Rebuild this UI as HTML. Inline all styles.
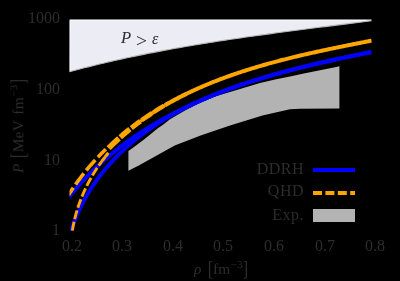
<!DOCTYPE html>
<html><head><meta charset="utf-8"><style>
html,body{margin:0;padding:0;background:#000;}
body{width:400px;height:281px;position:relative;overflow:hidden;font-family:"Liberation Serif",serif;color:#2d2d2d;}
.t{position:absolute;white-space:nowrap;line-height:1;will-change:transform;}
.yt{font-size:16px;text-align:right;width:40px;left:19.6px;}
.xt{font-size:16px;text-align:center;width:40px;}
.lg{font-size:16px;text-align:right;width:80px;left:224.1px;letter-spacing:0.5px;}
sup{font-size:0.74em;vertical-align:baseline;position:relative;top:-0.52em;line-height:0;}
.br{font-size:1.32em;line-height:0;position:relative;top:0.06em;font-weight:normal;display:inline-block;transform:scaleX(0.8);margin:0 -0.04em;}
</style></head><body>
<svg width="400" height="281" viewBox="0 0 400 281" style="position:absolute;left:0;top:0">
<defs><clipPath id="c"><rect x="69.5" y="19.5" width="302.3" height="211.3"/></clipPath></defs>
<path d="M69.55,19.60 L371.50,19.60 L371.47,20.72 L367.63,21.21 L363.78,21.70 L359.94,22.19 L356.09,22.68 L352.25,23.17 L348.40,23.66 L344.55,24.14 L340.70,24.63 L336.86,25.12 L333.01,25.60 L329.16,26.09 L325.31,26.58 L321.46,27.07 L317.61,27.55 L313.76,28.04 L309.91,28.54 L306.06,29.03 L302.21,29.53 L298.36,30.02 L294.51,30.52 L290.66,31.03 L286.81,31.53 L282.96,32.04 L279.11,32.55 L275.27,33.06 L271.42,33.58 L267.57,34.10 L263.72,34.63 L259.88,35.16 L256.03,35.69 L252.19,36.23 L248.34,36.78 L244.50,37.33 L240.66,37.88 L236.81,38.44 L232.97,39.01 L229.13,39.58 L225.30,40.16 L221.46,40.74 L217.62,41.33 L213.79,41.93 L209.95,42.53 L206.12,43.14 L202.29,43.76 L198.46,44.39 L194.63,45.03 L190.80,45.67 L186.98,46.32 L183.16,46.98 L179.33,47.65 L175.51,48.32 L171.69,49.01 L167.88,49.71 L164.06,50.41 L160.25,51.13 L156.44,51.85 L152.63,52.59 L148.83,53.33 L145.02,54.09 L141.22,54.86 L137.42,55.64 L133.62,56.43 L129.83,57.23 L126.03,58.04 L122.24,58.86 L118.45,59.70 L114.67,60.55 L110.89,61.41 L107.11,62.29 L103.33,63.18 L99.55,64.08 L95.78,64.99 L92.01,65.92 L88.25,66.86 L84.48,67.82 L80.72,68.79 L76.97,69.77 L73.21,70.77 L69.46,71.79Z" fill="#ececf4"/>
<path d="M69.46,71.79 L73.21,70.77 L76.97,69.77 L80.72,68.79 L84.48,67.82 L88.25,66.86 L92.01,65.92 L95.78,64.99 L99.55,64.08 L103.33,63.18 L107.11,62.29 L110.89,61.41 L114.67,60.55 L118.45,59.70 L122.24,58.86 L126.03,58.04 L129.83,57.23 L133.62,56.43 L137.42,55.64 L141.22,54.86 L145.02,54.09 L148.83,53.33 L152.63,52.59 L156.44,51.85 L160.25,51.13 L164.06,50.41 L167.88,49.71 L171.69,49.01 L175.51,48.32 L179.33,47.65 L183.16,46.98 L186.98,46.32 L190.80,45.67 L194.63,45.03 L198.46,44.39 L202.29,43.76 L206.12,43.14 L209.95,42.53 L213.79,41.93 L217.62,41.33 L221.46,40.74 L225.30,40.16 L229.13,39.58 L232.97,39.01 L236.81,38.44 L240.66,37.88 L244.50,37.33 L248.34,36.78 L252.19,36.23 L256.03,35.69 L259.88,35.16 L263.72,34.63 L267.57,34.10 L271.42,33.58 L275.27,33.06 L279.11,32.55 L282.96,32.04 L286.81,31.53 L290.66,31.03 L294.51,30.52 L298.36,30.02 L302.21,29.53 L306.06,29.03 L309.91,28.54 L313.76,28.04 L317.61,27.55 L321.46,27.07 L325.31,26.58 L329.16,26.09 L333.01,25.60 L336.86,25.12 L340.70,24.63 L344.55,24.14 L348.40,23.66 L352.25,23.17 L356.09,22.68 L359.94,22.19 L363.78,21.70 L367.63,21.21 L371.47,20.72" fill="none" stroke="#b8b8b8" stroke-width="1.1"/>
<path d="M70.3,70.5 L70.3,20.4 L366,20.4" fill="none" stroke="#f6f6fb" stroke-width="1"/>
<path d="M128.40,151.10 L136.00,145.50 L144.00,139.50 L149.00,135.50 L157.50,128.60 L163.00,124.80 L170.00,119.30 L185.00,110.60 L200.00,102.80 L215.00,96.40 L230.00,91.90 L245.00,87.60 L260.00,82.90 L275.00,79.40 L290.00,76.40 L305.00,73.20 L320.00,70.30 L335.00,67.20 L339.40,66.20 L339.40,108.60 L300.00,108.70 L290.00,109.30 L280.00,111.50 L262.50,115.50 L230.00,125.50 L200.60,135.50 L174.70,145.50 L156.75,155.50 L138.75,165.50 L128.40,170.70Z" fill="#b3b3b3"/>
<g clip-path="url(#c)" fill="none">
<path d="M68.86,196.94 L69.60,196.02 L70.35,195.11 L71.10,194.20 L71.85,193.29 L72.61,192.39 L73.37,191.49 L74.13,190.59 L74.89,189.70 L75.66,188.81 L76.43,187.93 L77.21,187.05 L77.98,186.17 L78.76,185.30 L79.54,184.43 L80.33,183.56 L81.12,182.70 L81.91,181.85 L82.70,180.99 L83.50,180.14 L84.30,179.30 L85.10,178.46 L85.90,177.62 L86.71,176.78 L87.52,175.95 L88.34,175.13 L89.15,174.30 L89.97,173.49 L90.79,172.67 L91.61,171.86 L92.44,171.05 L93.27,170.25 L94.10,169.45 L94.94,168.65 L95.77,167.86 L96.61,167.07 L97.45,166.28 L98.30,165.50 L99.15,164.72 L100.00,163.94 L100.85,163.17 L101.70,162.40 L102.56,161.64 L103.42,160.88 L104.28,160.12 L105.15,159.37 L106.02,158.62 L106.89,157.87 L107.76,157.13 L108.63,156.39 L109.51,155.65 L110.39,154.92 L111.27,154.19 L112.16,153.46 L113.04,152.74 L113.93,152.02 L114.82,151.30 L115.72,150.59 L116.61,149.88 L117.51,149.18 L118.41,148.47 L119.31,147.78 L120.22,147.08 L121.13,146.39 L122.04,145.70 L122.95,145.01 L123.86,144.33 L124.78,143.65 L125.70,142.98 L126.62,142.30 L127.54,141.64 L128.47,140.97 L129.40,140.31 L130.32,139.65 L131.26,138.99 L132.19,138.34 L133.13,137.69 L134.06,137.04 L135.00,136.40 L135.95,135.76 L136.89,135.12 L137.84,134.49 L138.78,133.86 L139.73,133.23 L140.69,132.60 L141.64,131.98 L142.60,131.36 L143.56,130.75 L144.52,130.14 L145.48,129.53 L146.44,128.92 L147.41,128.32 L148.38,127.72 L149.35,127.12 L150.32,126.53 L151.29,125.93 L152.27,125.35 L153.24,124.76 L154.22,124.18 L155.20,123.60 L156.19,123.02 L157.17,122.45 L158.16,121.88 L159.15,121.31 L160.14,120.75 L161.13,120.18 L162.12,119.63 L163.12,119.07 L164.11,118.52 L165.11,117.97 L166.11,117.42 L167.11,116.87 L168.12,116.33 L169.12,115.79 L170.13,115.25 L171.14,114.72 L172.15,114.19 L173.16,113.66 L174.17,113.14 L175.19,112.61 L176.21,112.09 L177.22,111.58 L178.24,111.06 L179.27,110.55 L180.29,110.04 L181.31,109.53 L182.34,109.03 L183.37,108.53 L184.39,108.03 L185.42,107.53 L186.46,107.04 L187.49,106.55 L188.52,106.06 L189.56,105.57 L190.60,105.09 L191.64,104.61 L192.68,104.13 L193.72,103.66 L194.76,103.18 L195.80,102.71 L196.85,102.25 L197.90,101.78 L198.95,101.32 L199.99,100.86 L201.05,100.40 L202.10,99.94 L203.15,99.49 L204.21,99.04 L205.26,98.59 L206.32,98.14 L207.38,97.70 L208.44,97.26 L209.50,96.82 L210.56,96.38 L211.62,95.95 L212.68,95.52 L213.75,95.09 L214.82,94.66 L215.88,94.23 L216.95,93.81 L218.02,93.39 L219.09,92.97 L220.16,92.56 L221.24,92.14 L222.31,91.73 L223.39,91.32 L224.46,90.92 L225.54,90.51 L226.62,90.11 L227.70,89.71 L228.78,89.31 L229.86,88.91 L230.94,88.52 L232.02,88.13 L233.10,87.74 L234.19,87.35 L235.27,86.96 L236.36,86.58 L237.45,86.20 L238.54,85.82 L239.62,85.44 L240.71,85.07 L241.81,84.69 L242.90,84.32 L243.99,83.95 L245.08,83.59 L246.18,83.22 L247.27,82.86 L248.37,82.50 L249.46,82.14 L250.56,81.78 L251.66,81.43 L252.75,81.07 L253.85,80.72 L254.95,80.37 L256.05,80.02 L257.15,79.68 L258.25,79.33 L259.36,78.99 L260.46,78.65 L261.56,78.31 L262.67,77.98 L263.77,77.64 L264.88,77.31 L265.98,76.98 L267.09,76.65 L268.19,76.32 L269.30,76.00 L270.41,75.67 L271.52,75.35 L272.63,75.03 L273.73,74.71 L274.84,74.39 L275.95,74.08 L277.07,73.76 L278.18,73.45 L279.29,73.14 L280.40,72.83 L281.51,72.53 L282.62,72.22 L283.74,71.92 L284.85,71.61 L285.96,71.31 L287.08,71.02 L288.19,70.72 L289.31,70.42 L290.42,70.13 L291.54,69.83 L292.65,69.54 L293.77,69.25 L294.88,68.97 L296.00,68.68 L297.11,68.39 L298.23,68.11 L299.35,67.83 L300.46,67.55 L301.58,67.27 L302.70,66.99 L303.82,66.71 L304.93,66.44 L306.05,66.16 L307.17,65.89 L308.29,65.62 L309.40,65.35 L310.52,65.08 L311.64,64.82 L312.76,64.55 L313.88,64.29 L315.00,64.02 L316.11,63.76 L317.23,63.50 L318.35,63.24 L319.47,62.99 L320.59,62.73 L321.70,62.47 L322.82,62.22 L323.94,61.97 L325.06,61.72 L326.17,61.47 L327.29,61.22 L328.41,60.97 L329.53,60.72 L330.64,60.48 L331.76,60.23 L332.88,59.99 L333.99,59.75 L335.11,59.51 L336.23,59.27 L337.34,59.03 L338.46,58.79 L339.58,58.55 L340.69,58.32 L341.81,58.08 L342.92,57.85 L344.03,57.62 L345.15,57.38 L346.26,57.15 L347.38,56.92 L348.49,56.70 L349.60,56.47 L350.71,56.24 L351.83,56.02 L352.94,55.79 L354.05,55.57 L355.16,55.35 L356.27,55.12 L357.38,54.90 L358.49,54.68 L359.60,54.46 L360.71,54.25 L361.82,54.03 L362.92,53.81 L364.03,53.60 L365.14,53.38 L366.24,53.17 L367.35,52.95 L368.46,52.74 L369.56,52.53 L370.66,52.32 L371.77,52.11" stroke="#0000ff" stroke-width="4"/>
<path d="M70.53,232.50 L70.92,231.26 L71.32,230.01 L71.73,228.78 L72.15,227.55 L72.57,226.32 L73.00,225.11 L73.44,223.89 L73.89,222.68 L74.35,221.48 L74.81,220.29 L75.28,219.10 L75.76,217.91 L76.25,216.73 L76.74,215.56 L77.25,214.39 L77.76,213.22 L78.27,212.07 L78.80,210.91 L79.33,209.77 L79.87,208.63 L80.41,207.49 L80.96,206.36 L81.52,205.24 L82.09,204.12 L82.67,203.00 L83.25,201.89 L83.84,200.79 L84.43,199.69 L85.03,198.60 L85.64,197.51 L86.26,196.43 L86.88,195.36 L87.51,194.28 L88.14,193.22 L88.78,192.16 L89.43,191.10 L90.09,190.05 L90.75,189.01 L91.42,187.97 L92.09,186.94 L92.77,185.91 L93.46,184.89 L94.15,183.87 L94.85,182.86 L95.56,181.85 L96.27,180.85 L96.99,179.85 L97.71,178.86 L98.44,177.87 L99.17,176.89 L99.91,175.91 L100.66,174.94 L101.41,173.98 L102.17,173.01 L102.94,172.06 L103.71,171.11 L104.48,170.16 L105.26,169.22 L106.05,168.29 L106.84,167.36 L107.64,166.43 L108.44,165.51 L109.25,164.60 L110.06,163.69 L110.88,162.78 L111.71,161.88 L112.54,160.99 L113.37,160.10 L114.21,159.21 L115.05,158.33 L115.90,157.46 L116.76,156.59 L117.62,155.72 L118.48,154.86 L119.35,154.01 L120.22,153.16 L121.10,152.31 L121.98,151.47 L122.87,150.64 L123.76,149.81 L124.66,148.98 L125.56,148.16 L126.46,147.34 L127.37,146.53 L128.29,145.73 L129.20,144.93 L130.13,144.13 L131.05,143.34 L131.98,142.55 L132.92,141.77 L133.86,140.99 L134.80,140.22 L135.75,139.45 L136.70,138.69 L137.65,137.93 L138.61,137.18 L139.58,136.43 L140.54,135.68 L141.51,134.94 L142.49,134.21 L143.46,133.48 L144.44,132.75 L145.43,132.03 L146.42,131.32 L147.41,130.61 L148.40,129.90 L149.40,129.20 L150.40,128.50 L151.41,127.81 L152.42,127.12 L153.43,126.43 L154.44,125.75 L155.46,125.08 L156.48,124.41 L157.51,123.74 L158.53,123.08 L159.57,122.42 L160.60,121.77 L161.64,121.12 L162.68,120.47 L163.72,119.83 L164.77,119.20 L165.82,118.56 L166.87,117.94 L167.92,117.31 L168.98,116.69 L170.04,116.08 L171.11,115.46 L172.17,114.86 L173.24,114.25 L174.32,113.65 L175.39,113.06 L176.47,112.47 L177.55,111.88 L178.63,111.30 L179.72,110.72 L180.81,110.14 L181.90,109.57 L182.99,109.00 L184.08,108.44 L185.18,107.88 L186.28,107.32 L187.39,106.77 L188.49,106.22 L189.60,105.67 L190.71,105.13 L191.82,104.59 L192.94,104.06 L194.05,103.53 L195.17,103.00 L196.30,102.48 L197.42,101.96 L198.54,101.44 L199.67,100.93 L200.80,100.42 L201.93,99.91 L203.07,99.41 L204.20,98.91 L205.34,98.41 L206.48,97.92 L207.62,97.43 L208.77,96.95 L209.91,96.46 L211.06,95.98 L212.21,95.51 L213.36,95.04 L214.51,94.57 L215.67,94.10 L216.83,93.64 L217.98,93.18 L219.14,92.72 L220.30,92.27 L221.47,91.82 L222.63,91.37 L223.80,90.92 L224.96,90.48 L226.13,90.04 L227.30,89.61 L228.47,89.17 L229.65,88.74 L230.82,88.32 L232.00,87.89 L233.17,87.47 L234.35,87.05 L235.53,86.64 L236.71,86.23 L237.89,85.82 L239.08,85.41 L240.26,85.00 L241.45,84.60 L242.63,84.20 L243.82,83.81 L245.01,83.41 L246.20,83.02 L247.39,82.63 L248.58,82.25 L249.77,81.86 L250.96,81.48 L252.16,81.10 L253.35,80.73 L254.55,80.36 L255.74,79.98 L256.94,79.62 L258.14,79.25 L259.34,78.88 L260.54,78.52 L261.74,78.16 L262.94,77.81 L264.14,77.45 L265.34,77.10 L266.54,76.75 L267.74,76.40 L268.95,76.06 L270.15,75.71 L271.35,75.37 L272.56,75.03 L273.76,74.69 L274.97,74.36 L276.17,74.02 L277.38,73.69 L278.58,73.36 L279.79,73.04 L280.99,72.71 L282.20,72.39 L283.41,72.07 L284.61,71.75 L285.82,71.43 L287.02,71.11 L288.23,70.80 L289.44,70.49 L290.64,70.17 L291.85,69.87 L293.06,69.56 L294.26,69.25 L295.47,68.95 L296.67,68.65 L297.88,68.35 L299.08,68.05 L300.29,67.75 L301.49,67.46 L302.70,67.16 L303.90,66.87 L305.10,66.58 L306.31,66.29 L307.51,66.00 L308.71,65.71 L309.91,65.43 L311.12,65.14 L312.32,64.86 L313.52,64.58 L314.72,64.30 L315.91,64.02 L317.11,63.74 L318.31,63.47 L319.51,63.19 L320.70,62.92 L321.90,62.65 L323.09,62.38 L324.29,62.11 L325.48,61.84 L326.67,61.57 L327.86,61.30 L329.05,61.04 L330.24,60.77 L331.43,60.51 L332.61,60.25 L333.80,59.98 L334.98,59.72 L336.17,59.46 L337.35,59.20 L338.53,58.95 L339.71,58.69 L340.89,58.43 L342.07,58.18 L343.25,57.92 L344.42,57.67 L345.59,57.42 L346.77,57.16 L347.94,56.91 L349.11,56.66 L350.28,56.41 L351.44,56.16 L352.61,55.91 L353.77,55.66 L354.93,55.41 L356.09,55.16 L357.25,54.92 L358.41,54.67 L359.56,54.42 L360.72,54.18 L361.87,53.93 L363.02,53.69 L364.17,53.44 L365.32,53.20 L366.46,52.96 L367.60,52.71 L368.74,52.47 L369.88,52.22 L371.02,51.98" stroke="#0000ff" stroke-width="3.9"/>
<path d="M68.48,195.09 L69.01,194.26 L69.54,193.42 L70.08,192.59 L70.62,191.76 L71.16,190.93 L71.70,190.11 L72.25,189.29 L72.80,188.46 L73.36,187.65 L73.92,186.83 L74.48,186.02 L75.05,185.20 L75.61,184.40 L76.19,183.59 L76.76,182.78 L77.34,181.98 L77.92,181.18 L78.51,180.38 L79.10,179.59 L79.69,178.80 L80.28,178.01 L80.88,177.22 L81.48,176.43 L82.09,175.65 L82.69,174.87 L83.30,174.09 L83.92,173.32 L84.53,172.54 L85.15,171.77 L85.78,171.00 L86.40,170.24 L87.03,169.48 L87.66,168.71 L88.30,167.96 L88.94,167.20 L89.58,166.45 L90.22,165.70 L90.87,164.95 L91.52,164.20 L92.17,163.46 L92.83,162.72 L93.49,161.98 L94.15,161.25 L94.82,160.52 L95.48,159.79 L96.15,159.06 L96.83,158.34 L97.50,157.61 L98.18,156.90 L98.86,156.18 L99.55,155.46 L100.24,154.75 L100.93,154.05 L101.62,153.34 L102.32,152.64 L103.01,151.94 L103.72,151.24 L104.42,150.54 L105.13,149.85 L105.83,149.16" stroke="#ffa500" stroke-width="3.6" stroke-dasharray="13.8 3.9" stroke-dashoffset="5.0"/>
<path d="M72.04,232.74 L72.19,231.75 L72.35,230.76 L72.51,229.78 L72.68,228.79 L72.85,227.81 L73.03,226.82 L73.22,225.84 L73.41,224.86 L73.61,223.88 L73.81,222.91 L74.02,221.93 L74.24,220.96 L74.47,219.98 L74.70,219.01 L74.93,218.04 L75.18,217.07 L75.43,216.10 L75.68,215.14 L75.94,214.17 L76.21,213.21 L76.49,212.25 L76.77,211.29 L77.05,210.34 L77.35,209.38 L77.64,208.43 L77.95,207.48 L78.26,206.53 L78.58,205.58 L78.90,204.64 L79.23,203.69 L79.57,202.75 L79.91,201.81 L80.26,200.88 L80.61,199.94 L80.97,199.01 L81.33,198.08 L81.71,197.15 L82.08,196.23 L82.47,195.31 L82.86,194.39 L83.25,193.47 L83.65,192.55 L84.06,191.64 L84.47,190.73 L84.89,189.82 L85.31,188.92 L85.74,188.02 L86.17,187.12 L86.61,186.22 L87.06,185.33 L87.51,184.44 L87.97,183.55 L88.43,182.66 L88.90,181.78 L89.37,180.90 L89.85,180.02 L90.33,179.15 L90.82,178.28 L91.32,177.41 L91.81,176.54 L92.32,175.68 L92.83,174.82 L93.34,173.97 L93.86,173.11 L94.39,172.26 L94.92,171.42 L95.45,170.57 L95.99,169.73 L96.54,168.90 L97.09,168.06 L97.64,167.23 L98.20,166.40 L98.76,165.58 L99.33,164.76 L99.91,163.94 L100.48,163.12 L101.07,162.31 L101.65,161.51 L102.25,160.70 L102.84,159.90 L103.44,159.10 L104.05,158.31 L104.66,157.51 L105.27,156.73 L105.89,155.94 L106.51,155.16 L107.14,154.38 L107.77,153.61 L108.40,152.84" stroke="#ffa500" stroke-width="2.9" stroke-dasharray="9.1 2.7" stroke-dashoffset="9.7"/>
<path d="M102.58,160.25 L103.12,159.52 L103.67,158.80 L104.22,158.08 L104.77,157.37 L105.33,156.65 L105.89,155.94 L106.45,155.24 L107.02,154.53 L107.59,153.83 L108.16,153.13" stroke="#ffa500" stroke-width="2.9"/>
<path d="M108.60,148.14 L109.27,147.47 L109.95,146.80 L110.63,146.14 L111.31,145.48 L111.99,144.82 L112.67,144.16 L113.36,143.51 L114.05,142.86 L114.74,142.21 L115.44,141.57 L116.13,140.92 L116.83,140.28 L117.53,139.65 L118.24,139.01 L118.94,138.38" stroke="#ffa500" stroke-width="5.6"/>
<path d="M120.29,137.18 L121.02,136.55 L121.74,135.92 L122.47,135.29 L123.20,134.66 L123.94,134.03 L124.67,133.41 L125.41,132.79 L126.15,132.18 L126.90,131.56 L127.64,130.95 L128.39,130.35 L129.14,129.74 L129.89,129.14" stroke="#ffa500" stroke-width="5.4"/>
<path d="M131.30,128.02 L132.06,127.43 L132.81,126.84 L133.57,126.26 L134.33,125.67 L135.09,125.09 L135.85,124.52 L136.62,123.94 L137.38,123.37 L138.15,122.80 L138.92,122.23 L139.70,121.67 L140.47,121.11" stroke="#ffa500" stroke-width="5.0"/>
<path d="M140.31,121.23 L141.04,120.70 L141.77,120.18" stroke="#ffa500" stroke-width="3.0"/>
<path d="M141.61,120.29 L142.37,119.75 L143.14,119.21 L143.90,118.67 L144.67,118.14 L145.44,117.61 L146.21,117.08 L146.98,116.55 L147.76,116.02 L148.54,115.50 L149.31,114.98 L150.09,114.47 L150.88,113.95 L151.66,113.44 L152.44,112.93" stroke="#ffa500" stroke-width="4.6"/>
<path d="M152.36,112.98 L152.95,112.60 L153.54,112.23" stroke="#ffa500" stroke-width="3.2"/>
<path d="M153.45,112.28 L154.27,111.76 L155.08,111.24 L155.90,110.73 L156.71,110.22 L157.53,109.71 L158.36,109.20 L159.18,108.70 L160.00,108.20 L160.83,107.70 L161.66,107.20 L162.49,106.71 L163.32,106.22 L164.15,105.73" stroke="#ffa500" stroke-width="4.4"/>
<path d="M164.06,105.78 L164.67,105.43 L165.27,105.08" stroke="#ffa500" stroke-width="3.4"/>
<path d="M165.19,105.13 L166.03,104.64 L166.87,104.16 L167.72,103.67 L168.57,103.19 L169.42,102.72 L170.27,102.24 L171.12,101.77 L171.97,101.30 L172.83,100.84 L173.69,100.37 L174.54,99.91 L175.40,99.45 L176.26,99.00 L177.12,98.54 L177.99,98.09 L178.85,97.64 L179.72,97.19 L180.58,96.75 L181.45,96.31 L182.32,95.87 L183.19,95.43 L184.06,95.00 L184.94,94.57 L185.81,94.14" stroke="#ffa500" stroke-width="4.2"/>
<path d="M185.36,94.36 L186.26,93.92 L187.15,93.48 L188.05,93.05 L188.95,92.62 L189.85,92.19 L190.75,91.76 L191.65,91.34 L192.56,90.92 L193.46,90.50 L194.37,90.08 L195.28,89.67 L196.18,89.26 L197.09,88.85 L198.00,88.44 L198.91,88.03 L199.83,87.63 L200.74,87.23 L201.65,86.83 L202.57,86.44 L203.48,86.04 L204.40,85.65 L205.32,85.26 L206.24,84.88 L207.16,84.49 L208.08,84.11 L209.00,83.73 L209.92,83.35 L210.85,82.98 L211.77,82.60 L212.70,82.23 L213.62,81.86 L214.55,81.50 L215.48,81.13 L216.41,80.77 L217.34,80.41 L218.27,80.05 L219.20,79.69 L220.13,79.34 L221.06,78.99 L222.00,78.64 L222.93,78.29 L223.87,77.94 L224.80,77.60 L225.74,77.25 L226.67,76.91 L227.61,76.57 L228.55,76.24 L229.49,75.90 L230.43,75.57 L231.37,75.24 L232.31,74.91 L233.25,74.58 L234.20,74.26 L235.14,73.93 L236.08,73.61 L237.03,73.29 L237.97,72.97 L238.92,72.66 L239.86,72.34 L240.81,72.03 L241.76,71.72 L242.70,71.41 L243.65,71.10 L244.60,70.80 L245.55,70.49 L246.50,70.19 L247.45,69.89 L248.40,69.59 L249.35,69.29 L250.31,69.00 L251.26,68.70 L252.21,68.41 L253.17,68.12 L254.12,67.83 L255.07,67.54 L256.03,67.25 L256.99,66.97 L257.94,66.69 L258.90,66.40 L259.85,66.12 L260.81,65.84 L261.77,65.57 L262.73,65.29 L263.69,65.02 L264.64,64.74 L265.60,64.47 L266.56,64.20 L267.52,63.93 L268.48,63.67 L269.45,63.40 L270.41,63.14 L271.37,62.87 L272.33,62.61 L273.29,62.35 L274.26,62.09 L275.22,61.83 L276.18,61.58 L277.15,61.32 L278.11,61.07 L279.07,60.81 L280.04,60.56 L281.00,60.31 L281.97,60.06 L282.94,59.81 L283.90,59.57 L284.87,59.32 L285.83,59.08 L286.80,58.83 L287.77,58.59 L288.74,58.35 L289.70,58.11 L290.67,57.87 L291.64,57.63 L292.61,57.39 L293.58,57.16 L294.55,56.92 L295.51,56.69 L296.48,56.46 L297.45,56.23 L298.42,55.99 L299.39,55.77 L300.36,55.54 L301.34,55.31 L302.31,55.08 L303.28,54.86 L304.25,54.63 L305.22,54.41 L306.19,54.18 L307.16,53.96 L308.14,53.74 L309.11,53.52 L310.08,53.30 L311.05,53.08 L312.03,52.86 L313.00,52.65 L313.97,52.43 L314.95,52.21 L315.92,52.00 L316.89,51.78 L317.87,51.57 L318.84,51.36 L319.82,51.15 L320.79,50.93 L321.76,50.72 L322.74,50.51 L323.71,50.30 L324.69,50.10 L325.66,49.89 L326.64,49.68 L327.62,49.47 L328.59,49.27 L329.57,49.06 L330.54,48.86 L331.52,48.65 L332.49,48.45 L333.47,48.25 L334.45,48.04 L335.42,47.84 L336.40,47.64 L337.38,47.44 L338.35,47.24 L339.33,47.04 L340.31,46.84 L341.28,46.64 L342.26,46.44 L343.24,46.24 L344.21,46.04 L345.19,45.85 L346.17,45.65 L347.15,45.45 L348.12,45.26 L349.10,45.06 L350.08,44.86 L351.06,44.67 L352.03,44.47 L353.01,44.28 L353.99,44.08 L354.97,43.89 L355.95,43.69 L356.92,43.50 L357.90,43.31 L358.88,43.11 L359.86,42.92 L360.84,42.73 L361.81,42.53 L362.79,42.34 L363.77,42.15 L364.75,41.96 L365.73,41.76 L366.71,41.57 L367.68,41.38 L368.66,41.19 L369.64,40.99 L370.62,40.80 L371.60,40.61" stroke="#ffa500" stroke-width="4.0"/>
</g>
<path d="M313,170 H355" stroke="#0000ff" stroke-width="4"/>
<path d="M313,193 H355" stroke="#ffa500" stroke-width="4" stroke-dasharray="9 3.4"/>
<rect x="313" y="209" width="42" height="13" fill="#b3b3b3"/>
</svg>
<div class="t yt" style="top:10px">1000</div>
<div class="t yt" style="top:80.9px">100</div>
<div class="t yt" style="top:152px">10</div>
<div class="t yt" style="top:222.4px">1</div>
<div class="t xt" style="left:51.5px;top:238px">0.2</div>
<div class="t xt" style="left:102.2px;top:238px">0.3</div>
<div class="t xt" style="left:152.8px;top:238px">0.4</div>
<div class="t xt" style="left:203.4px;top:238px">0.5</div>
<div class="t xt" style="left:254.1px;top:238px">0.6</div>
<div class="t xt" style="left:304.8px;top:238px">0.7</div>
<div class="t xt" style="left:355.4px;top:238px">0.8</div>

<div class="t" style="left:194px;top:261px;font-size:15.4px;word-spacing:2px;letter-spacing:0.2px"><i>ρ</i> <span class="br">[</span>fm<sup>−3</sup><span class="br">]</span></div>
<div class="t" id="yl" style="left:17.5px;top:126px;font-size:15.4px;word-spacing:1.5px;letter-spacing:0.25px;transform:translate(-50%,-50%) rotate(-90deg);"><i>P</i> <span class="br">[</span>MeV fm<sup>−3</sup><span class="br">]</span></div>
<div class="t" style="left:120.6px;top:30.1px;font-size:16.6px"><i>P</i></div>
<div class="t" style="left:135.6px;top:30.9px;font-size:19.5px">&gt;</div>
<div class="t" style="left:152px;top:30.6px;font-size:16px"><i>ε</i></div>
<div class="t lg" style="top:160.5px">DDRH</div>
<div class="t lg" style="top:183.2px">QHD</div>
<div class="t lg" style="top:206.9px">Exp.</div>
</body></html>
